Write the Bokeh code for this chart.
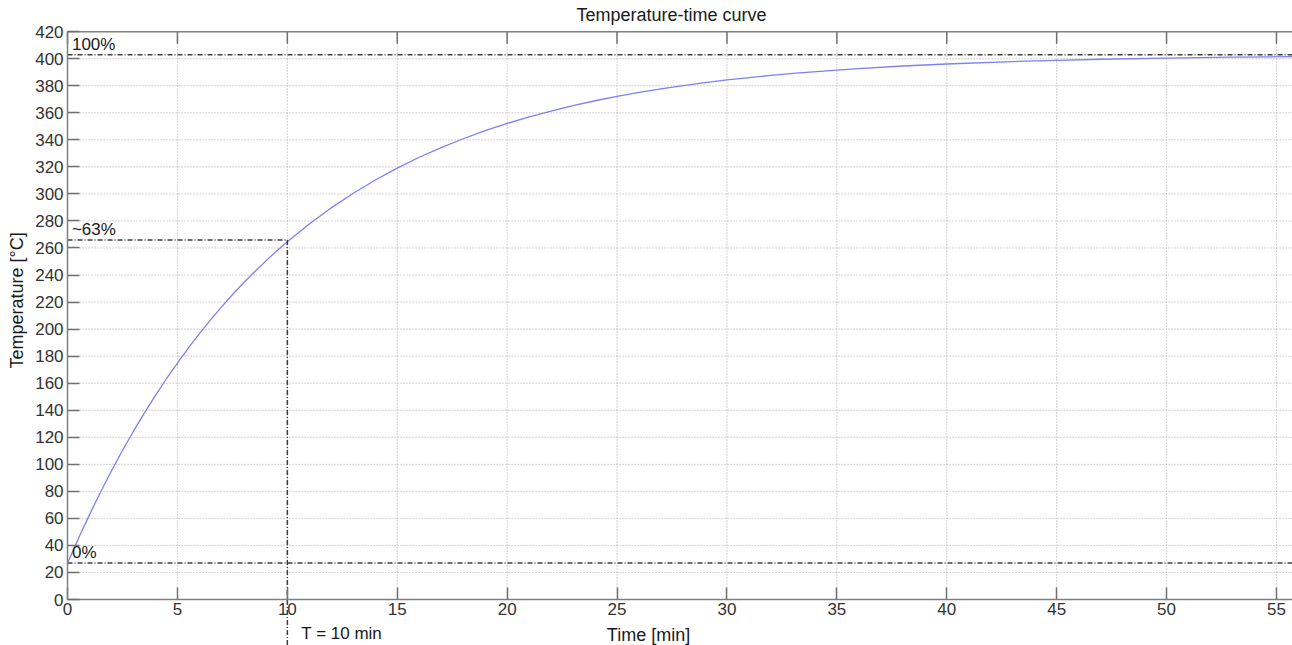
import math
from bokeh.plotting import figure
from bokeh.models import Label, FixedTicker, LinearAxis, Range1d
from bokeh.embed import file_html
from bokeh.resources import INLINE

# ---- data ----
time_min = [0, 0.5, 1, 1.5, 2, 2.5, 3, 3.5, 4, 4.5, 5, 5.5, 6, 6.5, 7, 7.5, 8, 8.5,
            9, 9.5, 10, 11, 12, 13, 14, 15, 16, 17, 18, 19, 20, 21, 22, 23, 24,
            25, 26, 27, 28, 29, 30, 32, 33, 35, 36, 38, 40, 43, 45, 47, 50, 53, 56]
temp_c = [27, 45.3, 62.8, 79.4, 95.2, 110.2, 124.5, 138.0, 151.0, 163.3, 174.9,
          186.1, 196.6, 206.7, 216.3, 225.4, 234.1, 242.3, 250.1, 257.6, 264.7,
          277.8, 289.7, 300.5, 310.3, 319.1, 327.1, 334.3, 340.8, 346.8, 352.1,
          357.0, 361.3, 365.3, 368.9, 372.1, 375.1, 377.7, 380.1, 382.3, 384.3,
          387.7, 389.1, 391.6, 392.7, 394.6, 396.1, 397.9, 398.8, 399.6, 400.5,
          401.1, 401.6]

level_0 = 27        # 0 %
level_63 = 266      # ~63 %
level_100 = 403     # 100 %
tau = 10            # time constant T [min]

x_ticks = [0, 5, 10, 15, 20, 25, 30, 35, 40, 45, 50, 55]
y_ticks = [0, 20, 40, 60, 80, 100, 120, 140, 160, 180, 200, 220, 240, 260, 280,
           300, 320, 340, 360, 380, 400, 420]

# ---- layout / style ----
X_START, X_END = -3.05, 55.73     # frame spans the whole canvas width
Y_START, Y_END = -34.0, 443.05    # frame spans the whole canvas height
Y_TOP = 420                       # axes box top
PX_PER_Y = 1.352
TICK_LEN = 12 / PX_PER_Y

FONT = "Liberation Sans"
FS = "17px"
FS_LAB = "18px"
TXT = "#1a1a1a"
AX_COLOR = "#808080"
REF_COLOR = "#2a2a2a"
REF_DASH = "5 2 1 2"
GRID_COLOR = "#a8a8a8"

p = figure(width=1292, height=645,
           x_range=Range1d(X_START, X_END), y_range=Range1d(Y_START, Y_END),
           x_axis_location=None, y_axis_location=None,
           output_backend="svg", toolbar_location=None,
           min_border_left=0, min_border_right=0,
           min_border_top=0, min_border_bottom=0)

p.background_fill_color = "white"
p.border_fill_color = "white"
p.outline_line_color = None
p.xgrid.visible = False
p.ygrid.visible = False


def style_axis(ax):
    ax.major_tick_in = 12
    ax.major_tick_out = 0
    ax.minor_tick_line_color = None
    ax.major_tick_line_color = "#707070"
    ax.major_tick_line_width = 1.5
    ax.axis_line_color = AX_COLOR
    ax.axis_line_width = 1.5
    ax.major_label_text_font = FONT
    ax.major_label_text_font_size = FS
    ax.major_label_text_color = "#333333"


xax = LinearAxis(ticker=FixedTicker(ticks=x_ticks), fixed_location=0,
                 bounds=(0, X_END))
style_axis(xax)
xax.major_label_standoff = 3
p.add_layout(xax, "below")

yax = LinearAxis(ticker=FixedTicker(ticks=y_ticks), fixed_location=0,
                 bounds=(0, Y_TOP))
style_axis(yax)
yax.major_label_standoff = 4
p.add_layout(yax, "left")

# dotted grid inside the axes box
p.segment(x0=x_ticks[1:], y0=0, x1=x_ticks[1:], y1=Y_TOP,
          line_color=GRID_COLOR, line_dash="1 2", line_width=1)
p.segment(x0=0, y0=y_ticks[1:], x1=X_END, y1=y_ticks[1:],
          line_color=GRID_COLOR, line_dash="1 2", line_width=1)

# box top edge and inward ticks on it
p.segment(x0=0, y0=Y_TOP, x1=X_END, y1=Y_TOP, line_color=AX_COLOR, line_width=1.5)
p.segment(x0=x_ticks, y0=Y_TOP, x1=x_ticks, y1=Y_TOP - TICK_LEN,
          line_color="#707070", line_width=1.5)

# curve
p.line(time_min, temp_c, line_color="#7f7ff5", line_width=1.3)

# reference levels
ref_kw = dict(line_color=REF_COLOR, line_dash=REF_DASH, line_width=1.5, line_alpha=0.9)
p.segment(x0=0, y0=[level_100, level_0], x1=X_END, y1=[level_100, level_0], **ref_kw)
p.segment(x0=0, y0=level_63, x1=tau, y1=level_63, **ref_kw)
p.segment(x0=tau, y0=level_63, x1=tau, y1=Y_START, **ref_kw)

# texts
lab_kw = dict(text_font=FONT, text_font_size=FS, text_color=TXT)
p.add_layout(Label(x=0.2, y=level_100, y_offset=1, text="100%",
                   text_baseline="bottom", **lab_kw))
p.add_layout(Label(x=0.2, y=level_63, y_offset=1, text="~63%",
                   text_baseline="bottom", **lab_kw))
p.add_layout(Label(x=0.2, y=level_0, y_offset=1, text="0%",
                   text_baseline="bottom", **lab_kw))
p.add_layout(Label(x=tau, x_offset=14, y=-25.1, text="T = 10 min",
                   text_baseline="middle", text_align="left", **lab_kw))

ax_kw = dict(text_font=FONT, text_font_size=FS_LAB, text_color=TXT,
             text_baseline="middle", text_align="center")
p.add_layout(Label(x=26.43, y=-25.9, text="Time [min]", **ax_kw))
p.add_layout(Label(x=-2.32, y=221.2, text="Temperature [°C]", angle=math.pi / 2,
                   **ax_kw))
p.add_layout(Label(x=27.48, y=432.0, text="Temperature-time curve", **ax_kw))

open("out.html", "w").write(file_html(p, INLINE))
